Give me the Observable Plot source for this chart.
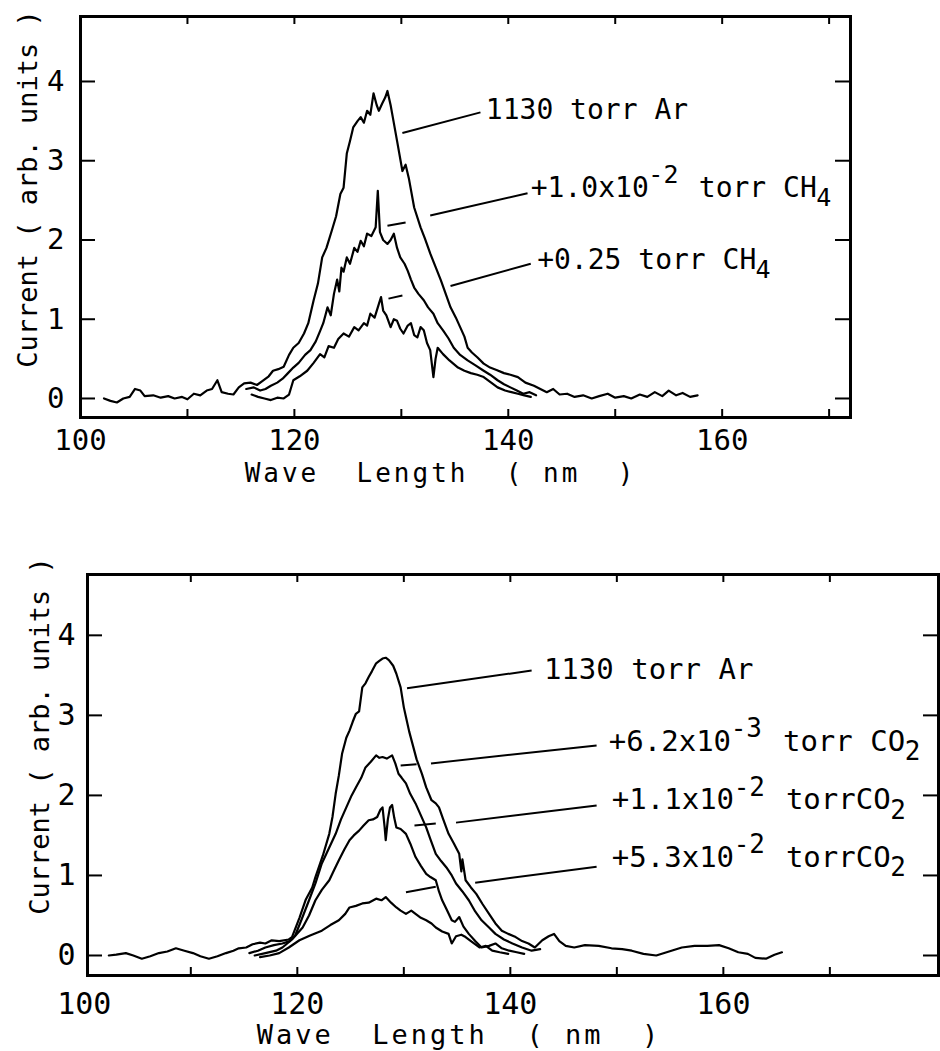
<!DOCTYPE html>
<html><head><meta charset="utf-8">
<script src="https://cdn.jsdelivr.net/npm/d3@7"></script>
<script src="https://cdn.jsdelivr.net/npm/@observablehq/plot@0.6"></script>
<style>
html,body{margin:0;padding:0;background:#fff;}
svg{display:block;}
</style></head><body><div id="chart"></div>
<script>
// ---------- shared text ----------
const xTitle = "Wave\u00a0\u00a0Length\u00a0\u00a0(\u00a0nm\u00a0\u00a0)";
const yTitle = "Current ( arb. units )";
const xTickLabels = [100, 120, 140, 160];
const yTickLabels = [0, 1, 2, 3, 4];
const xMinorTicks = [110, 120, 130, 140, 150, 160, 170];

// ---------- top panel: Ar + CH4 ----------
const topAr = [[102.2,0],[102.8,-0.03],[103.4,-0.05],[104.0,0],[104.6,0.02],[105.1,0.12],[105.6,0.10],[106.0,0.03],[106.8,0.04],[107.5,0.01],[108.2,0.03],[108.8,0],[109.5,0.02],[110.0,-0.01],[110.6,0.06],[111.2,0.04],[111.8,0.10],[112.3,0.12],[112.8,0.23],[113.2,0.08],[113.8,0.06],[114.3,0.05],[114.8,0.14],[115.3,0.19],[115.9,0.20],[116.5,0.17],[117.0,0.22],[117.6,0.28],[118.0,0.35],[118.5,0.37],[119.0,0.40],[119.5,0.55],[119.9,0.64],[120.4,0.70],[120.9,0.82],[121.3,0.95],[121.8,1.24],[122.2,1.45],[122.6,1.78],[123.0,1.90],[123.5,2.12],[123.9,2.30],[124.3,2.58],[124.6,2.66],[124.9,3.09],[125.2,3.25],[125.5,3.42],[125.9,3.50],[126.2,3.55],[126.5,3.48],[126.8,3.63],[127.1,3.58],[127.4,3.85],[127.7,3.70],[127.9,3.63],[128.2,3.72],[128.5,3.80],[128.7,3.88],[129.0,3.70],[129.2,3.55],[129.6,3.25],[130.1,2.87],[130.4,2.95],[130.7,2.78],[131.2,2.41],[131.8,2.16],[132.2,2.02],[132.7,1.83],[133.2,1.66],[133.7,1.49],[134.2,1.30],[134.6,1.15],[135.1,1.02],[135.5,0.90],[135.9,0.78],[136.2,0.64],[136.6,0.58],[137.1,0.52],[137.7,0.44],[138.3,0.39],[138.9,0.36],[139.6,0.32],[140.2,0.30],[140.9,0.27],[141.6,0.20],[142.4,0.16],[143.0,0.12],[143.6,0.08],[144.2,0.12],[144.8,0.05],[145.5,0.06],[146.2,0.02],[147.0,0.04],[147.8,0],[148.5,0.03],[149.3,0.06],[150.0,0.01],[150.8,0.03],[151.5,0],[152.3,0.05],[153.0,0.02],[153.7,0.08],[154.4,0.03],[155.0,0.10],[155.7,0.04],[156.3,0.07],[157.0,0.02],[157.7,0.04]];
const topCH4a = [[115.5,0.12],[116.2,0.14],[116.8,0.10],[117.3,0.12],[117.8,0.16],[118.4,0.20],[118.9,0.25],[119.4,0.32],[119.9,0.39],[120.4,0.45],[121.0,0.55],[121.5,0.61],[122.0,0.72],[122.4,0.85],[122.7,0.95],[123.1,1.15],[123.4,1.05],[123.7,1.32],[124.0,1.50],[124.2,1.35],[124.4,1.65],[124.6,1.60],[124.9,1.78],[125.2,1.70],[125.6,1.90],[125.9,1.85],[126.2,1.99],[126.5,1.92],[126.8,2.08],[127.2,2.05],[127.6,2.16],[127.8,2.62],[128.0,2.10],[128.3,2.00],[128.7,1.95],[129.0,2.00],[129.3,2.08],[129.6,1.90],[129.9,1.78],[130.3,1.70],[130.6,1.61],[130.9,1.50],[131.2,1.40],[131.6,1.32],[132.1,1.24],[132.5,1.15],[133.0,1.07],[133.4,0.95],[133.9,0.86],[134.4,0.76],[134.9,0.64],[135.5,0.55],[136.2,0.48],[136.9,0.42],[137.7,0.35],[138.3,0.30],[139.0,0.23],[139.6,0.18],[140.2,0.14],[140.8,0.10],[141.4,0.06],[142.0,0.08],[142.6,0.04]];
const topCH4b = [[116.0,0.05],[116.6,0.02],[117.2,0],[117.8,-0.02],[118.4,0.01],[119.0,0],[119.5,0.05],[119.9,0.23],[120.5,0.28],[121.2,0.35],[121.8,0.45],[122.4,0.56],[122.8,0.52],[123.2,0.66],[123.7,0.64],[124.1,0.75],[124.6,0.82],[125.1,0.78],[125.6,0.90],[126.0,0.86],[126.5,0.95],[126.8,0.92],[127.1,1.07],[127.5,1.02],[127.8,1.15],[128.1,1.28],[128.3,1.11],[128.6,1.05],[129.0,0.90],[129.3,1.00],[129.6,0.98],[129.9,0.88],[130.2,0.82],[130.6,0.92],[130.9,0.95],[131.2,0.80],[131.5,0.77],[131.8,0.90],[132.1,0.86],[132.4,0.70],[132.7,0.61],[133.0,0.27],[133.2,0.50],[133.4,0.64],[133.9,0.56],[134.5,0.48],[135.3,0.39],[135.9,0.35],[136.5,0.32],[137.1,0.30],[137.7,0.27],[138.4,0.20],[139.0,0.14],[139.7,0.10],[140.3,0.08],[140.9,0.06],[141.5,0.04],[142.1,0.02]];
const topLabelParts = [
  [["1130 torr Ar","n"]],
  [["+1.0x10","n"],["-2","sup"],[" torr CH","n"],["4","sub"]],
  [["+0.25 torr CH","n"],["4","sub"]]
];
const topLabelX = [137.9, 142.1, 142.7];
const topLabelY = [3.64, 2.66, 1.75];
const topLeaders = [[130.1,3.35,137.4,3.61],[132.7,2.31,141.8,2.59],[128.7,2.18,130.4,2.22],[134.6,1.42,142.1,1.70],[128.8,1.26,130.1,1.30]];

// ---------- bottom panel: Ar + CO2 ----------
const botAr = [[102.3,0],[103.0,0.01],[103.9,0.03],[104.6,0],[105.4,-0.04],[106.2,-0.01],[107.0,0.03],[107.8,0.05],[108.6,0.09],[109.4,0.06],[110.2,0.03],[110.9,-0.01],[111.7,-0.04],[112.5,-0.01],[113.3,0.03],[114.0,0.06],[114.5,0.09],[115.2,0.10],[115.8,0.14],[116.5,0.16],[117.0,0.15],[117.6,0.19],[118.3,0.18],[119.2,0.20],[119.5,0.23],[120.2,0.47],[120.8,0.70],[121.4,0.85],[121.7,0.98],[122.4,1.25],[123.0,1.52],[123.3,1.73],[123.6,2.02],[123.9,2.25],[124.2,2.52],[124.6,2.72],[124.9,2.81],[125.2,2.92],[125.5,3.02],[125.8,3.05],[126.1,3.35],[126.4,3.40],[126.7,3.48],[127.0,3.55],[127.4,3.65],[127.7,3.68],[128.0,3.71],[128.3,3.72],[128.6,3.69],[129.0,3.62],[129.3,3.52],[129.7,3.35],[130.0,3.10],[130.2,2.98],[130.5,2.80],[130.8,2.65],[131.2,2.45],[131.7,2.27],[132.1,2.10],[132.6,1.94],[133.0,1.90],[133.3,1.85],[133.7,1.70],[134.2,1.52],[134.7,1.40],[135.2,1.27],[135.4,1.05],[135.5,1.20],[135.8,0.94],[136.3,0.85],[136.8,0.77],[137.4,0.64],[138.0,0.52],[138.6,0.40],[139.2,0.31],[139.8,0.27],[140.5,0.23],[141.1,0.18],[141.7,0.15],[142.3,0.10],[143.0,0.19],[143.6,0.24],[144.1,0.27],[144.6,0.18],[145.2,0.12],[146.0,0.10],[147.0,0.13],[148.3,0.12],[149.5,0.09],[150.5,0.08],[151.4,0.06],[152.5,0.02],[153.7,0],[154.9,0.05],[156.1,0.10],[157.3,0.12],[158.5,0.12],[159.6,0.13],[160.5,0.09],[161.4,0.04],[162.3,0.02],[163.0,-0.03],[164.0,-0.04],[164.8,0.01],[165.5,0.04]];
const botCO2a = [[115.5,0.03],[116.3,0.06],[117.0,0.10],[117.8,0.13],[118.6,0.15],[119.3,0.18],[119.8,0.25],[120.4,0.45],[121.1,0.69],[121.7,0.90],[122.3,1.15],[123.0,1.35],[123.6,1.52],[124.1,1.70],[124.6,1.85],[125.1,2.00],[125.5,2.10],[126.0,2.22],[126.4,2.35],[126.9,2.42],[127.4,2.50],[127.7,2.47],[128.0,2.48],[128.4,2.46],[128.9,2.50],[129.2,2.40],[129.5,2.27],[129.8,2.22],[130.2,2.15],[130.6,2.02],[131.1,1.90],[131.6,1.75],[132.1,1.60],[132.5,1.45],[133.0,1.27],[133.5,1.18],[134.0,1.10],[134.5,1.00],[134.9,0.90],[135.5,0.80],[136.1,0.69],[136.7,0.55],[137.3,0.44],[138.0,0.35],[138.6,0.27],[139.4,0.20],[140.2,0.15],[141.1,0.10],[142.0,0.06],[142.8,0.08]];
const botCO2b = [[116.0,0],[117.0,0.03],[118.0,0.06],[118.6,0.10],[119.5,0.20],[120.5,0.35],[121.1,0.50],[121.7,0.69],[122.3,0.82],[123.0,0.94],[123.5,1.08],[123.9,1.19],[124.4,1.32],[124.9,1.44],[125.3,1.50],[125.8,1.56],[126.2,1.62],[126.7,1.69],[127.1,1.70],[127.5,1.73],[127.8,1.82],[128.0,1.85],[128.2,1.60],[128.3,1.44],[128.5,1.70],[128.7,1.85],[128.9,1.88],[129.1,1.72],[129.3,1.60],[129.7,1.58],[130.2,1.52],[130.6,1.40],[131.1,1.23],[131.6,1.12],[132.1,1.02],[132.5,0.98],[133.0,0.94],[133.3,0.80],[133.6,0.69],[134.0,0.58],[134.5,0.44],[134.8,0.42],[135.2,0.48],[135.6,0.36],[136.1,0.27],[136.7,0.18],[137.3,0.10],[138.0,0.12],[138.6,0.15],[139.2,0.09],[139.9,0.06],[140.6,0.04],[141.3,0.02]];
const botCO2c = [[116.5,-0.02],[117.4,0],[118.3,0.03],[119.2,0.10],[120.2,0.19],[121.2,0.25],[122.3,0.31],[123.1,0.38],[123.9,0.44],[124.5,0.52],[124.9,0.60],[125.5,0.62],[126.1,0.65],[126.7,0.66],[127.4,0.71],[127.9,0.69],[128.3,0.73],[128.8,0.66],[129.3,0.60],[129.7,0.56],[130.2,0.52],[130.7,0.56],[131.1,0.52],[131.6,0.47],[132.1,0.44],[132.6,0.40],[133.0,0.35],[133.6,0.30],[134.2,0.27],[134.5,0.15],[134.9,0.24],[135.4,0.26],[135.8,0.23],[136.3,0.18],[137.1,0.10],[137.7,0.12],[138.3,0.06],[139.0,0.04],[139.8,0.02]];
const botLabelParts = [
  [["1130 torr Ar","n"]],
  [["+6.2x10","n"],["-3","sup"],[" torr CO","n"],["2","sub"]],
  [["+1.1x10","n"],["-2","sup"],[" torrCO","n"],["2","sub"]],
  [["+5.3x10","n"],["-2","sup"],[" torrCO","n"],["2","sub"]]
];
const botLabelX = [143.15, 149.25, 149.53, 149.53];
const botLabelY = [3.575, 2.675, 1.94, 1.225];
const botLeaders = [[130.3,3.34,142.0,3.56],[132.55,2.40,148.1,2.625],[129.7,2.375,131.2,2.39],[134.9,1.66,148.1,1.875],[131.0,1.625,133.0,1.65],[136.7,0.91,148.1,1.11],[130.2,0.79,133.0,0.86]];

function panel(cfg) {
  const {height, ml, mr, mt, mb, xDomain, yDomain, series, parts, lx, ly, leaders,
         fs, tickFs, xPad, yPad, titleDx, titleDy, yTitleDx, yTitleDy, xTitleFs, yTitleFs} = cfg;
  const width = 940;
  const plotW = width - ml - mr, plotH = height - mt - mb;
  const marks = [];
  marks.push(Plot.tickX(xMinorTicks, {x: d => d, insetTop: plotH - 8, strokeWidth: 2}));
  marks.push(Plot.tickX(xMinorTicks, {x: d => d, insetBottom: plotH - 8, strokeWidth: 2}));
  marks.push(Plot.tickY(yTickLabels, {y: d => d, insetRight: plotW - 15, strokeWidth: 2}));
  marks.push(Plot.tickY(yTickLabels, {y: d => d, insetLeft: plotW - 15, strokeWidth: 2}));
  for (const s of series) {
    marks.push(Plot.line(s, {x: d => d[0], y: d => d[1], stroke: "black", strokeWidth: 2.2, strokeLinejoin: "round"}));
  }
  marks.push(Plot.link(leaders, {x1: d => d[0], y1: d => d[1], x2: d => d[2], y2: d => d[3], stroke: "black", strokeWidth: 2}));
  const cw = 0.6 * fs;
  parts.forEach((lab, i) => {
    let off = 0;
    for (const [t, kind] of lab) {
      const datum = [{x: lx[i], y: ly[i], t}];
      marks.push(Plot.text(datum, {
        x: "x", y: "y", text: "t", textAnchor: "start", lineAnchor: "middle", fill: "black",
        fontSize: kind === "n" ? fs : fs - 3,
        dx: off, dy: kind === "sup" ? -13 : kind === "sub" ? 10 : 0
      }));
      off += t.length * cw;
    }
  });
  marks.push(Plot.frame({stroke: "black", strokeWidth: 3}));
  marks.push(Plot.axisX({ticks: xTickLabels, tickSize: 0, tickPadding: xPad, fontSize: tickFs, label: null, tickFormat: d => String(d)}));
  marks.push(Plot.axisY({ticks: yTickLabels, tickSize: 0, tickPadding: yPad, fontSize: tickFs, label: null, tickFormat: d => String(d)}));
  marks.push(Plot.text([xTitle], {frameAnchor: "bottom", text: d => d, textAnchor: "middle", lineAnchor: "middle", dx: titleDx, dy: titleDy, fontSize: xTitleFs, fill: "black"}));
  marks.push(Plot.text([yTitle], {frameAnchor: "left", text: d => d, textAnchor: "middle", lineAnchor: "middle", rotate: -90, dx: yTitleDx, dy: yTitleDy, fontSize: yTitleFs, fill: "black"}));
  const svg = Plot.plot({
    width, height, marginLeft: ml, marginRight: mr, marginTop: mt, marginBottom: mb,
    x: {domain: xDomain}, y: {domain: yDomain},
    style: {fontFamily: "'DejaVu Sans Mono', monospace", color: "black", background: "white"},
    marks
  });
  d3.select(svg).selectAll("text").filter(function() { return this.textContent === xTitle; })
    .style("letter-spacing", "3px");
  return svg;
}

const root = document.getElementById("chart");
root.append(panel({
  height: 520, ml: 80, mr: 90, mt: 16, mb: 103,
  xDomain: [100, 172], yDomain: [-0.24, 4.82],
  series: [topAr, topCH4a, topCH4b],
  parts: topLabelParts, lx: topLabelX, ly: topLabelY, leaders: topLeaders,
  fs: 28, tickFs: 29, xPad: 12, yPad: 16,
  titleDx: -25, titleDy: 56, yTitleDx: -52, yTitleDy: -28, xTitleFs: 26, yTitleFs: 27
}));
root.append(panel({
  height: 531, ml: 87, mr: 2, mt: 54, mb: 76,
  xDomain: [100.3, 180.2], yDomain: [-0.25, 4.76],
  series: [botAr, botCO2a, botCO2b, botCO2c],
  parts: botLabelParts, lx: botLabelX, ly: botLabelY, leaders: botLeaders,
  fs: 29, tickFs: 30, xPad: 17, yPad: 12,
  titleDx: -54, titleDy: 60, yTitleDx: -47, yTitleDy: -39, xTitleFs: 27, yTitleFs: 27
}));
</script></body></html>
